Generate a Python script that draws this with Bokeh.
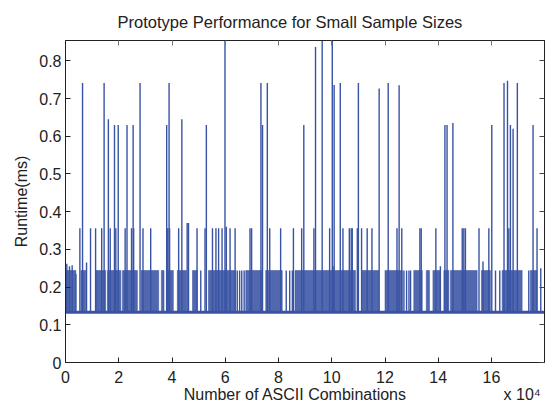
from bokeh.plotting import figure
from bokeh.models import Range1d, FixedTicker, LinearAxis, ColumnDataSource
from bokeh.embed import file_html
from bokeh.resources import INLINE

# ---- data (x in units of 1e4 ASCII combinations, y in ms) ----
x_start, x_end = 0.0, 17.99
baseline_ms = 0.133
band_ms = 0.244

# intervals where the runtime toggles densely between the baseline and ~0.24 ms
band_start = [0.00, 0.58, 1.14, 1.58, 2.14, 2.84, 3.60, 3.79, 4.20, 4.77, 5.37, 6.77, 7.52,
              8.62, 11.14, 12.00, 13.08, 13.55, 13.80, 14.21, 14.46, 15.62, 16.40, 17.46]
band_end = [0.39, 0.76, 1.51, 2.08, 2.70, 3.50, 3.70, 4.05, 4.54, 4.95, 6.39, 7.39, 8.14,
            10.89, 11.77, 12.65, 13.40, 13.67, 14.08, 14.40, 15.46, 15.96, 17.15, 17.71]

# isolated spikes: position and peak runtime
spike_x = [0.64, 1.45, 1.61, 1.84, 1.98, 2.31, 2.54, 2.80, 3.80, 3.89, 4.37, 5.29, 5.99,
           7.34, 7.40, 7.58, 8.95, 9.39, 9.64, 10.02, 10.09, 10.32, 11.00, 11.78, 12.12,
           12.53, 14.25, 14.33, 14.55, 16.01, 16.47, 16.60, 16.71, 16.81, 16.97, 17.56,
           0.54, 0.94, 1.13, 1.36, 1.68, 1.89, 2.24, 2.48, 2.56, 2.91, 3.20, 3.84, 3.91,
           4.25, 4.57, 4.62, 4.94, 5.24, 5.52, 5.65, 5.75, 5.88, 6.04, 6.18, 6.37, 6.93,
           6.99, 7.67, 8.08, 8.56, 8.87, 9.33, 9.92, 10.42, 10.66, 10.73, 10.77, 10.96,
           11.12, 11.33, 11.51, 12.45, 12.63, 13.31, 13.36, 13.91, 14.90, 14.96, 15.02,
           15.53, 15.90, 16.65, 17.71,
           0.05, 0.15, 0.25, 0.39, 0.79, 5.08, 6.45, 6.54, 6.62, 6.71, 8.29, 8.42, 8.52,
           12.71, 12.81, 12.90, 12.96, 16.15, 16.31, 17.40, 17.85, 14.08, 15.68, 10.05]
spike_y = [0.741, 0.741, 0.645, 0.630, 0.630, 0.630, 0.630, 0.741, 0.630, 0.741, 0.645, 0.630, 0.860,
           0.741, 0.630, 0.741, 0.630, 0.837, 0.860, 0.860, 0.736, 0.741, 0.741, 0.727, 0.741,
           0.735, 0.630, 0.630, 0.635, 0.630, 0.741, 0.747, 0.630, 0.620, 0.741, 0.630,
           0.356, 0.356, 0.356, 0.356, 0.356, 0.356, 0.356, 0.356, 0.356, 0.356, 0.356, 0.356, 0.356,
           0.356, 0.370, 0.370, 0.356, 0.356, 0.356, 0.356, 0.356, 0.356, 0.360, 0.356, 0.356, 0.356,
           0.356, 0.356, 0.356, 0.356, 0.356, 0.356, 0.356, 0.356, 0.356, 0.356, 0.356, 0.356,
           0.356, 0.356, 0.356, 0.356, 0.356, 0.356, 0.356, 0.356, 0.356, 0.356, 0.356,
           0.356, 0.356, 0.356, 0.356,
           0.262, 0.255, 0.258, 0.235, 0.265, 0.244, 0.244, 0.244, 0.244, 0.244, 0.244, 0.244, 0.244,
           0.244, 0.244, 0.244, 0.244, 0.244, 0.244, 0.244, 0.250, 0.255, 0.268, 0.255]

x_tick_vals = [0, 2, 4, 6, 8, 10, 12, 14, 16]
y_tick_vals = [0, 0.1, 0.2, 0.3, 0.4, 0.5, 0.6, 0.7, 0.8]
y_top = 0.854

x_label_text = "Number of ASCII Combinations"
x_label_at = 8.63          # where MATLAB centred the axis label (in 1e4 units)
x_exp_text = "x 10\u2074"
x_exp_at = 17.15           # exponent note at the lower right

SCALE = 1e4
LINE = "#3953a4"
FONT = "Liberation Sans"
INK = "#222222"

p = figure(output_backend="svg", toolbar_location=None,
           frame_width=479, frame_height=322,
           min_border_left=65, min_border_right=8, min_border_top=39, min_border_bottom=48,
           x_range=Range1d(x_start * SCALE, x_end * SCALE), y_range=Range1d(0, y_top),
           background_fill_color="white", border_fill_color="white")
p.grid.visible = False
p.outline_line_color = INK
p.outline_line_width = 1

p.title.text = "Prototype Performance for Small Sample Sizes"
p.title.align = "left"
p.title.text_font = FONT
p.title.text_font_size = "16.5px"
p.title.text_font_style = "normal"
p.title.text_color = INK
p.title.offset = 52
p.title.standoff = 20

band = ColumnDataSource(dict(left=[v * SCALE for v in band_start],
                             right=[v * SCALE for v in band_end]))
p.quad(left="left", right="right", bottom=baseline_ms, top=band_ms, source=band,
       fill_color=LINE, fill_alpha=0.88, line_color=LINE, line_width=0.6, line_alpha=0.9)

p.line([x_start * SCALE, x_end * SCALE], [baseline_ms, baseline_ms], line_color=LINE, line_width=3)

spikes = ColumnDataSource(dict(x=[v * SCALE for v in spike_x], y=spike_y))
p.segment(x0="x", y0=baseline_ms, x1="x", y1="y", source=spikes, line_color=LINE, line_width=1.4)

# bottom axis: visible tick marks are drawn as "minor" ticks at the real tick values,
# the (invisible) major ticks carry the tick labels plus the axis label and exponent note
xt = FixedTicker(ticks=[v * SCALE for v in x_tick_vals])
x_bottom_ticker = FixedTicker(ticks=[v * SCALE for v in x_tick_vals] + [x_label_at * SCALE, x_exp_at * SCALE],
                              minor_ticks=[v * SCALE for v in x_tick_vals])
yt = FixedTicker(ticks=y_tick_vals)

x_over = {v * SCALE: str(v) for v in x_tick_vals}
x_over[x_label_at * SCALE] = "\n" + x_label_text
x_over[x_exp_at * SCALE] = "\n" + x_exp_text

for ax in p.xaxis:
    ax.ticker = x_bottom_ticker
    ax.major_label_overrides = x_over
    ax.major_tick_line_color = None
    ax.minor_tick_in = 5
    ax.minor_tick_out = 0
    ax.minor_tick_line_color = INK
    ax.major_label_text_line_height = 1.0
for ax in p.yaxis:
    ax.ticker = yt
    ax.major_label_overrides = {v: ("0" if v == 0 else "%g" % v) for v in y_tick_vals}
    ax.major_tick_in = 5
    ax.major_tick_out = 0
    ax.minor_tick_line_color = None
    ax.major_tick_line_color = INK

for ax in list(p.xaxis) + list(p.yaxis):
    ax.axis_line_color = INK
    ax.major_label_text_font = FONT
    ax.major_label_text_font_size = "16px"
    ax.major_label_text_color = INK
p.xaxis.major_label_standoff = 0
p.yaxis.major_label_standoff = 4

p.yaxis.axis_label = "Runtime(ms)"
p.yaxis.axis_label_text_font = FONT
p.yaxis.axis_label_text_font_size = "16px"
p.yaxis.axis_label_text_font_style = "normal"
p.yaxis.axis_label_text_color = INK
p.yaxis.axis_label_standoff = 6

# mirrored tick marks on top and right (box on), no labels
top_ax = LinearAxis(ticker=xt, major_tick_in=5, major_tick_out=0,
                    major_label_overrides={v * SCALE: "" for v in x_tick_vals},
                    major_label_standoff=0, minor_tick_line_color=None,
                    axis_line_color=INK, major_tick_line_color="#777777")
right_ax = LinearAxis(ticker=yt, major_tick_in=5, major_tick_out=0,
                      major_label_overrides={v: "" for v in y_tick_vals},
                      major_label_standoff=0, minor_tick_line_color=None,
                      axis_line_color=INK, major_tick_line_color="#444444")
p.add_layout(top_ax, "above")
p.add_layout(right_ax, "right")

open("out.html", "w").write(file_html(p, INLINE))
